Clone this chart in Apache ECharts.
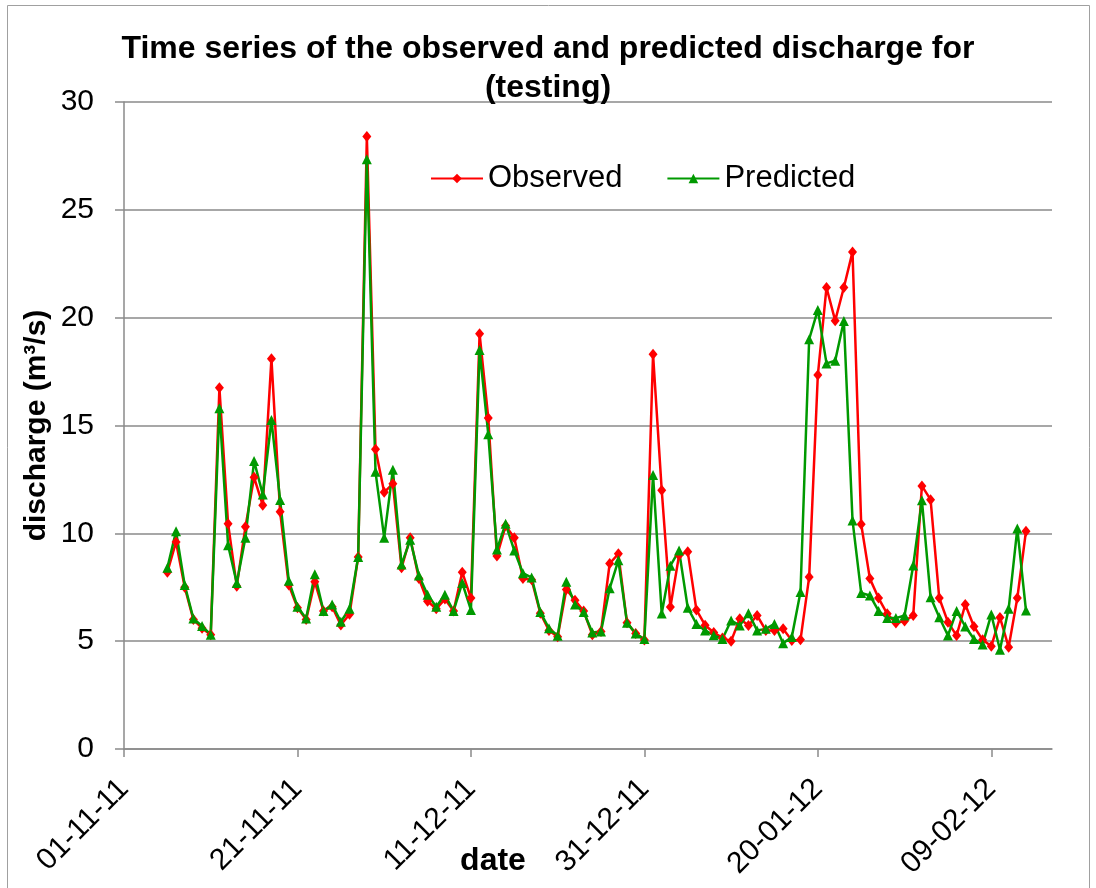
<!DOCTYPE html>
<html>
<head>
<meta charset="utf-8">
<script src="https://cdn.jsdelivr.net/npm/echarts@6/dist/echarts.min.js"></script>
<style>
  html, body { margin: 0; padding: 0; background: #fff; }
  #chart { width: 1096px; height: 888px; }
</style>
</head>
<body>
<div id="chart"></div>
<script>
// daily series, first value on 06-11-11, x axis counted in days from 01-11-11
var axisStart = Date.UTC(2011, 10, 1);
var firstDate = Date.UTC(2011, 10, 6);
var tickDays = [0, 20, 40, 60, 80, 100];

var observed = [
  8.2, 9.6, 7.5, 6.0, 5.6, 5.3, 16.75, 10.45, 7.55, 10.3,
  12.6, 11.3, 18.1, 11.0, 7.6, 6.55, 6.0, 7.75, 6.4, 6.6,
  5.75, 6.25, 8.9, 28.4, 13.9, 11.9, 12.3, 8.4, 9.8, 7.9,
  6.85, 6.5, 6.95, 6.4, 8.2, 7.0, 19.25, 15.35, 8.95, 10.35,
  9.8, 7.9, 7.85, 6.3, 5.5, 5.2, 7.4, 6.9, 6.4, 5.3,
  5.45, 8.6, 9.05, 5.85, 5.35, 5.05, 18.3, 12.0, 6.58, 8.98,
  9.15, 6.45, 5.74, 5.4, 5.15, 5.0, 6.04, 5.73, 6.19, 5.5,
  5.5, 5.57, 5.03, 5.06, 7.97, 17.34, 21.4, 19.86, 21.4, 23.05,
  10.42, 7.9, 7.0, 6.27, 5.84, 5.93, 6.19, 12.2, 11.56, 7.0,
  5.88, 5.26, 6.7, 5.68, 5.06, 4.76, 6.1, 4.72, 7.0, 10.1
];

var predicted = [
  8.4, 10.1, 7.6, 6.05, 5.7, 5.3, 15.8, 9.45, 7.7, 9.8,
  13.35, 11.8, 15.25, 11.55, 7.8, 6.6, 6.05, 8.1, 6.4, 6.7,
  5.9, 6.5, 8.9, 27.35, 12.85, 9.8, 12.95, 8.55, 9.7, 8.05,
  7.15, 6.6, 7.15, 6.4, 7.7, 6.45, 18.5, 14.6, 9.25, 10.45,
  9.2, 8.15, 7.95, 6.35, 5.6, 5.25, 7.75, 6.7, 6.35, 5.4,
  5.45, 7.45, 8.75, 5.85, 5.35, 5.1, 12.7, 6.28, 8.5, 9.2,
  6.55, 5.8, 5.5, 5.27, 5.1, 5.96, 5.73, 6.3, 5.5, 5.57,
  5.8, 4.9, 5.19, 7.28, 19.0, 20.36, 17.88, 18.0, 19.85, 10.6,
  7.23, 7.12, 6.4, 6.07, 6.07, 6.19, 8.51, 11.53, 7.04, 6.11,
  5.26, 6.4, 5.68, 5.1, 4.85, 6.24, 4.6, 6.5, 10.22, 6.42
];

var DAY = 24 * 3600 * 1000;
var offset0 = Math.round((firstDate - axisStart) / DAY);

function pairs(vals) {
  return vals.map(function (v, i) { return [offset0 + i, v]; });
}

function fmtDay(d) {
  var t = new Date(axisStart + d * DAY);
  var dd = ('0' + t.getUTCDate()).slice(-2);
  var mm = ('0' + (t.getUTCMonth() + 1)).slice(-2);
  var yy = ('' + t.getUTCFullYear()).slice(-2);
  return dd + '-' + mm + '-' + yy;
}

var font = '"Liberation Sans", Arial, sans-serif';
var gridGray = '#8a8a8a';

var myChart = echarts.init(document.getElementById('chart'));
var option = {
  backgroundColor: '#fff',
  animation: false,
  title: {
    text: 'Time series of the observed and predicted discharge for\n(testing)',
    left: 'center',
    top: 30,
    padding: 0,
    textStyle: { fontFamily: font, fontSize: 32, fontWeight: 'bold', color: '#000', lineHeight: 39 }
  },
  legend: {
    left: 430,
    top: 163,
    padding: 0,
    itemWidth: 52,
    itemHeight: 12,
    itemGap: 44,
    textStyle: { fontFamily: font, fontSize: 31, color: '#000' },
    data: ['Observed', 'Predicted']
  },
  graphic: [{
    type: 'rect',
    shape: { x: 7.5, y: 5.5, width: 1082, height: 900 },
    style: { fill: 'none', stroke: '#a0a0a0', lineWidth: 1 },
    silent: true
  }],
  grid: { left: 124, right: 44, top: 102, bottom: 139, containLabel: false, outerBoundsMode: 'none' },
  xAxis: {
    type: 'value',
    min: 0,
    max: 107,
    interval: 20,
    name: 'date',
    nameLocation: 'middle',
    nameGap: 96,
    nameMoveOverlap: false,
    nameTextStyle: { fontFamily: font, fontSize: 32, fontWeight: 'bold', color: '#000', padding: [0, 190, 0, 0] },
    axisLine: { lineStyle: { color: gridGray, width: 1.5 } },
    axisTick: { show: true, length: 8, lineStyle: { color: gridGray, width: 1.5 }, customValues: tickDays },
    axisLabel: {
      customValues: tickDays,
      rotate: 45,
      margin: 35,
      fontFamily: font,
      fontSize: 30,
      color: '#000',
      formatter: function (v) { return fmtDay(v); }
    },
    splitLine: { show: false }
  },
  yAxis: {
    type: 'value',
    min: 0,
    max: 30,
    interval: 5,
    name: 'discharge (m³/s)',
    nameLocation: 'middle',
    nameGap: 72,
    nameMoveOverlap: false,
    nameTextStyle: { fontFamily: font, fontSize: 30, fontWeight: 'bold', color: '#000' },
    axisLine: { show: true, lineStyle: { color: gridGray, width: 1.5 } },
    axisTick: { show: true, length: 9, lineStyle: { color: gridGray, width: 1.5 } },
    axisLabel: { margin: 30, fontFamily: font, fontSize: 30, color: '#000' },
    splitLine: { show: true, lineStyle: { color: gridGray, width: 1.5 } }
  },
  series: [
    {
      name: 'Observed',
      type: 'line',
      data: pairs(observed),
      symbol: 'diamond',
      symbolSize: [9, 11],
      showAllSymbol: true,
      itemStyle: { color: '#ff0000' },
      lineStyle: { color: '#ff0000', width: 2.5 }
    },
    {
      name: 'Predicted',
      type: 'line',
      data: pairs(predicted),
      symbol: 'triangle',
      symbolSize: 10,
      showAllSymbol: true,
      itemStyle: { color: '#009900' },
      lineStyle: { color: '#009900', width: 2.5 }
    }
  ]
};
myChart.setOption(option);
</script>
</body>
</html>
